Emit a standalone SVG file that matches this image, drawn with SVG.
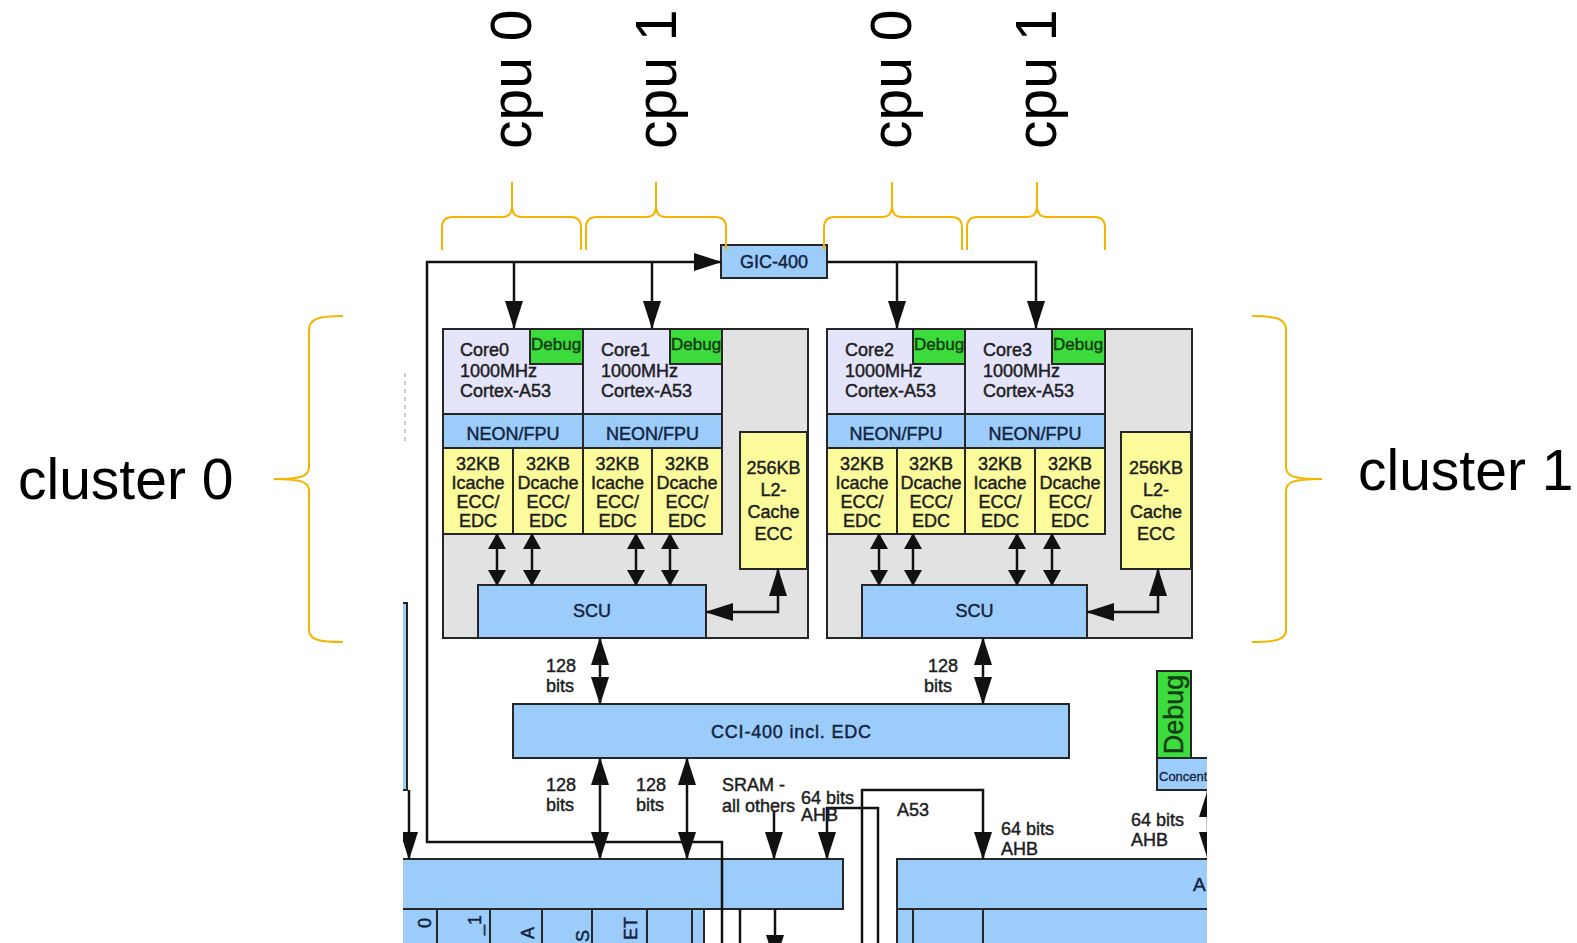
<svg xmlns="http://www.w3.org/2000/svg" width="1577" height="943" viewBox="0 0 1577 943">
<style>
.box{stroke:#262626;stroke-width:2}
.gray{fill:#e2e2e2}
.core{fill:#e4e4fa}
.dbg{fill:#3ddc3d}
.blue{fill:#9ccdfa}
.yel{fill:#fbfb9c}
.t{font-family:"Liberation Sans",Arial,sans-serif;font-size:18px;fill:#1e1e1e;stroke:#1e1e1e;stroke-width:0.45}
.n{fill:#13233f;stroke:#13233f}
.g{fill:#143c14;stroke:#143c14}
.d{font-size:17px}
.c{text-anchor:middle}
.big{font-family:"Liberation Sans",Arial,sans-serif;font-size:57px;fill:#000}
.brace{fill:none;stroke:#f5b400;stroke-width:2}
.ln{fill:none;stroke:#111;stroke-width:2.5}
</style>
<defs>
<marker id="ah" markerUnits="userSpaceOnUse" viewBox="0 0 28 18" markerWidth="28" markerHeight="18" refX="27" refY="9" orient="auto-start-reverse"><path d="M0,0 L28,9 L0,18z" fill="#111"/></marker>
<marker id="as" markerUnits="userSpaceOnUse" viewBox="0 0 16 18" markerWidth="16" markerHeight="18" refX="15" refY="9" orient="auto-start-reverse"><path d="M0,0 L16,9 L0,18z" fill="#111"/></marker>
<clipPath id="pic"><rect x="403" y="0" width="804" height="943"/></clipPath>
</defs>
<rect width="1577" height="943" fill="#fff"/>

<g clip-path="url(#pic)">
<g id="left-partial">
<line x1="405" y1="373" x2="405" y2="443" stroke="#bbb" stroke-width="1.5" stroke-dasharray="4,4"/>
<rect class="box blue" x="370" y="603" width="37" height="187"/>
</g>

<g id="gic">
<rect class="box blue" x="721" y="245" width="106" height="33"/>
<text class="t n c" x="774" y="268">GIC-400</text>
</g>

<g id="cluster0">
<rect class="box gray" x="443" y="329" width="365" height="309"/>
</g>
<g id="core0">
<rect class="box core" x="443" y="329" width="140" height="85"/>
<rect class="box dbg" x="530" y="329" width="53" height="35"/>
<text class="t g d" x="531" y="350">Debug</text>
<text class="t" x="460" y="356">Core0</text><text class="t" x="460" y="377">1000MHz</text><text class="t" x="460" y="397">Cortex-A53</text>
<rect class="box blue" x="443" y="414" width="140" height="34"/>
<text class="t n c" x="513" y="440">NEON/FPU</text>
<rect class="box yel" x="443" y="448" width="70" height="86"/>
<text class="t c" x="478" y="470">32KB</text><text class="t c" x="478" y="489">Icache</text><text class="t c" x="478" y="508">ECC/</text><text class="t c" x="478" y="527">EDC</text>
<rect class="box yel" x="513" y="448" width="70" height="86"/>
<text class="t c" x="548" y="470">32KB</text><text class="t c" x="548" y="489">Dcache</text><text class="t c" x="548" y="508">ECC/</text><text class="t c" x="548" y="527">EDC</text>
</g>
<g id="core1">
<rect class="box core" x="583" y="329" width="139" height="85"/>
<rect class="box dbg" x="670" y="329" width="52" height="35"/>
<text class="t g d" x="671" y="350">Debug</text>
<text class="t" x="601" y="356">Core1</text><text class="t" x="601" y="377">1000MHz</text><text class="t" x="601" y="397">Cortex-A53</text>
<rect class="box blue" x="583" y="414" width="139" height="34"/>
<text class="t n c" x="652.5" y="440">NEON/FPU</text>
<rect class="box yel" x="583" y="448" width="69" height="86"/>
<text class="t c" x="617.5" y="470">32KB</text><text class="t c" x="617.5" y="489">Icache</text><text class="t c" x="617.5" y="508">ECC/</text><text class="t c" x="617.5" y="527">EDC</text>
<rect class="box yel" x="652" y="448" width="70" height="86"/>
<text class="t c" x="687" y="470">32KB</text><text class="t c" x="687" y="489">Dcache</text><text class="t c" x="687" y="508">ECC/</text><text class="t c" x="687" y="527">EDC</text>
</g>
<g id="l2-0">
<rect class="box yel" x="740" y="432" width="67" height="137"/>
<text class="t c" x="773.5" y="474">256KB</text><text class="t c" x="773.5" y="496">L2-</text><text class="t c" x="773.5" y="518">Cache</text><text class="t c" x="773.5" y="540">ECC</text>
</g>
<g id="scu0">
<rect class="box blue" x="478" y="585" width="228" height="53"/>
<text class="t n c" x="592" y="617">SCU</text>
</g>

<g id="cluster1">
<rect class="box gray" x="827" y="329" width="365" height="309"/>
</g>
<g id="core2">
<rect class="box core" x="827" y="329" width="138" height="85"/>
<rect class="box dbg" x="913" y="329" width="52" height="35"/>
<text class="t g d" x="914" y="350">Debug</text>
<text class="t" x="845" y="356">Core2</text><text class="t" x="845" y="377">1000MHz</text><text class="t" x="845" y="397">Cortex-A53</text>
<rect class="box blue" x="827" y="414" width="138" height="34"/>
<text class="t n c" x="896" y="440">NEON/FPU</text>
<rect class="box yel" x="827" y="448" width="70" height="86"/>
<text class="t c" x="862" y="470">32KB</text><text class="t c" x="862" y="489">Icache</text><text class="t c" x="862" y="508">ECC/</text><text class="t c" x="862" y="527">EDC</text>
<rect class="box yel" x="897" y="448" width="68" height="86"/>
<text class="t c" x="931" y="470">32KB</text><text class="t c" x="931" y="489">Dcache</text><text class="t c" x="931" y="508">ECC/</text><text class="t c" x="931" y="527">EDC</text>
</g>
<g id="core3">
<rect class="box core" x="965" y="329" width="140" height="85"/>
<rect class="box dbg" x="1052" y="329" width="53" height="35"/>
<text class="t g d" x="1053" y="350">Debug</text>
<text class="t" x="983" y="356">Core3</text><text class="t" x="983" y="377">1000MHz</text><text class="t" x="983" y="397">Cortex-A53</text>
<rect class="box blue" x="965" y="414" width="140" height="34"/>
<text class="t n c" x="1035" y="440">NEON/FPU</text>
<rect class="box yel" x="965" y="448" width="70" height="86"/>
<text class="t c" x="1000" y="470">32KB</text><text class="t c" x="1000" y="489">Icache</text><text class="t c" x="1000" y="508">ECC/</text><text class="t c" x="1000" y="527">EDC</text>
<rect class="box yel" x="1035" y="448" width="70" height="86"/>
<text class="t c" x="1070" y="470">32KB</text><text class="t c" x="1070" y="489">Dcache</text><text class="t c" x="1070" y="508">ECC/</text><text class="t c" x="1070" y="527">EDC</text>
</g>
<g id="l2-1">
<rect class="box yel" x="1121" y="432" width="70" height="137"/>
<text class="t c" x="1156" y="474">256KB</text><text class="t c" x="1156" y="496">L2-</text><text class="t c" x="1156" y="518">Cache</text><text class="t c" x="1156" y="540">ECC</text>
</g>
<g id="scu1">
<rect class="box blue" x="862" y="585" width="225" height="53"/>
<text class="t n c" x="974.5" y="617">SCU</text>
</g>

<g id="cci">
<rect class="box blue" x="513" y="704" width="556" height="54"/>
<text class="t n c" x="791" y="738" textLength="160">CCI-400 incl. EDC</text>
</g>

<g id="debug-concentrator">
<rect class="box dbg" x="1157" y="671" width="34" height="87"/>
<text class="t g c" transform="translate(1183,714.5) rotate(-90)" style="font-size:27px">Debug</text>
<rect class="box blue" x="1157" y="758" width="60" height="32"/>
<text class="t n" x="1159" y="781" style="font-size:13px;stroke-width:0.3">Concentrator</text>
</g>

<g id="bus-left">
<rect class="box blue" x="380" y="859" width="463" height="50"/>
<rect class="box blue" x="380" y="909" width="57" height="50"/>
<rect class="box blue" x="437" y="909" width="53" height="50"/>
<rect class="box blue" x="490" y="909" width="52" height="50"/>
<rect class="box blue" x="542" y="909" width="50" height="50"/>
<rect class="box blue" x="592" y="909" width="55" height="50"/>
<rect class="box blue" x="647" y="909" width="45" height="50"/>
<rect class="box blue" x="692" y="909" width="12" height="50"/>
<text class="t n" text-anchor="end" transform="translate(431,918) rotate(-90)">0</text>
<text class="t n" text-anchor="end" transform="translate(481,915) rotate(-90)">_1</text>
<text class="t n" text-anchor="end" transform="translate(534,927) rotate(-90)">A</text>
<text class="t n" text-anchor="end" transform="translate(589,930) rotate(-90)">S</text>
<text class="t n" text-anchor="end" transform="translate(637,917) rotate(-90)">ET</text>
</g>

<g id="bus-right">
<rect class="box blue" x="897" y="859" width="330" height="50"/>
<rect class="box blue" x="897" y="909" width="16" height="50"/>
<rect class="box blue" x="913" y="909" width="70" height="50"/>
<rect class="box blue" x="983" y="909" width="250" height="50"/>
<text class="t n" x="1193" y="891" style="font-size:19px">A</text>
</g>

<g id="connectors">
<path class="ln" d="M722,960 V842 H427 V262 H721" marker-end="url(#ah)"/>
<path class="ln" d="M514,262 V328" marker-end="url(#ah)"/>
<path class="ln" d="M652,262 V328" marker-end="url(#ah)"/>
<path class="ln" d="M827,262 H1036 V328" marker-end="url(#ah)"/>
<path class="ln" d="M897,262 V328" marker-end="url(#ah)"/>
<path class="ln" d="M497,534 V585" marker-start="url(#as)" marker-end="url(#as)"/>
<path class="ln" d="M532,534 V585" marker-start="url(#as)" marker-end="url(#as)"/>
<path class="ln" d="M636,534 V585" marker-start="url(#as)" marker-end="url(#as)"/>
<path class="ln" d="M670,534 V585" marker-start="url(#as)" marker-end="url(#as)"/>
<path class="ln" d="M879,534 V585" marker-start="url(#as)" marker-end="url(#as)"/>
<path class="ln" d="M913,534 V585" marker-start="url(#as)" marker-end="url(#as)"/>
<path class="ln" d="M1017,534 V585" marker-start="url(#as)" marker-end="url(#as)"/>
<path class="ln" d="M1052,534 V585" marker-start="url(#as)" marker-end="url(#as)"/>
<path class="ln" d="M778,569 V612 H706" marker-start="url(#ah)" marker-end="url(#ah)"/>
<path class="ln" d="M1158,569 V612 H1087" marker-start="url(#ah)" marker-end="url(#ah)"/>
<path class="ln" d="M600,638 V704" marker-start="url(#ah)" marker-end="url(#ah)"/>
<path class="ln" d="M983,638 V704" marker-start="url(#ah)" marker-end="url(#ah)"/>
<path class="ln" d="M600,758 V859" marker-start="url(#ah)" marker-end="url(#ah)"/>
<path class="ln" d="M687,758 V859" marker-start="url(#ah)" marker-end="url(#ah)"/>
<path class="ln" d="M774,812 V859" marker-end="url(#ah)"/>
<path class="ln" d="M878,960 V808 H827 V859" marker-end="url(#ah)"/>
<path class="ln" d="M862,960 V790 H983 V859" marker-end="url(#ah)"/>
<path class="ln" d="M409,790 V859" marker-end="url(#ah)"/>
<path class="ln" d="M775,909 V962" marker-end="url(#ah)"/>
<path class="ln" d="M740,909 V960"/>
<path class="ln" d="M1208,790 V859" marker-start="url(#ah)" marker-end="url(#ah)"/>
</g>

<g id="labels">
<text class="t" x="546" y="672">128</text><text class="t" x="546" y="692">bits</text>
<text class="t" x="928" y="672">128</text><text class="t" x="924" y="692">bits</text>
<text class="t" x="546" y="791">128</text><text class="t" x="546" y="811">bits</text>
<text class="t" x="636" y="791">128</text><text class="t" x="636" y="811">bits</text>
<text class="t" x="722" y="791">SRAM -</text><text class="t" x="722" y="812">all others</text>
<text class="t" x="801" y="804">64 bits</text><text class="t" x="801" y="821">AHB</text>
<text class="t" x="897" y="816">A53</text>
<text class="t" x="1001" y="835">64 bits</text><text class="t" x="1001" y="855">AHB</text>
<text class="t" x="1131" y="826">64 bits</text><text class="t" x="1131" y="846">AHB</text>
</g>
</g>

<g id="braces">
<path class="brace" d="M442,250 L442,228 Q442,217 452,217 L502,217 Q512,217 512,206 L512,182 M512,206 Q512,217 522,217 L571,217 Q581,217 581,228 L581,250"/>
<path class="brace" d="M586,250 L586,228 Q586,217 596,217 L646,217 Q656,217 656,206 L656,182 M656,206 Q656,217 666,217 L716,217 Q726,217 726,228 L726,250"/>
<path class="brace" d="M824,250 L824,228 Q824,217 834,217 L882,217 Q892,217 892,206 L892,182 M892,206 Q892,217 902,217 L952,217 Q962,217 962,228 L962,250"/>
<path class="brace" d="M967,250 L967,228 Q967,217 977,217 L1027,217 Q1037,217 1037,206 L1037,182 M1037,206 Q1037,217 1047,217 L1095,217 Q1105,217 1105,228 L1105,250"/>
<path class="brace" d="M343,316 C320,316 309,318 309,330 L309,467 C309,476 302,479 274,479 C302,479 309,482 309,491 L309,630 C309,640 320,642 343,642"/>
<path class="brace" d="M1252,316 C1275,316 1286,318 1286,330 L1286,467 C1286,476 1293,479 1322,479 C1293,479 1286,482 1286,491 L1286,630 C1286,640 1275,642 1252,642"/>
</g>

<g id="outer-labels">
<text class="big" x="18" y="499">cluster 0</text>
<text class="big" x="1358" y="490">cluster 1</text>
<text class="big" transform="translate(531,149) rotate(-90)">cpu 0</text>
<text class="big" transform="translate(676,149) rotate(-90)">cpu 1</text>
<text class="big" transform="translate(911,149) rotate(-90)">cpu 0</text>
<text class="big" transform="translate(1056,149) rotate(-90)">cpu 1</text>
</g>
</svg>
